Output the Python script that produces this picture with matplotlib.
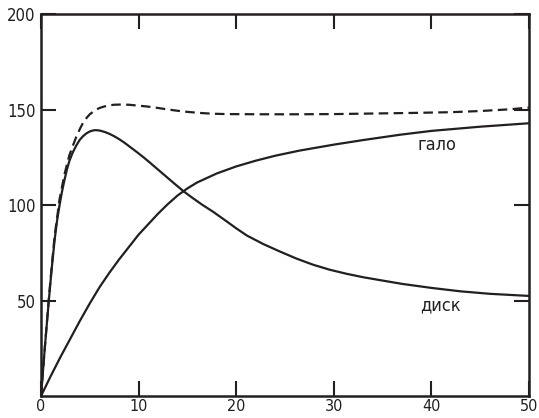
import matplotlib
matplotlib.use("Agg")
import matplotlib.pyplot as plt

# radius values and velocities
disk_r = [0, 0.4, 0.8, 1.1, 1.4, 1.65, 1.9, 2.15, 2.4, 2.65, 2.9, 3.25, 3.6, 3.95, 4.3, 4.65,
          5.0, 5.3, 5.6, 6.0, 6.5, 7.0, 7.5, 8.0, 8.5, 9.1, 9.8, 10.5, 11.2, 12.0, 12.8, 13.6,
          14.6, 15.5, 16.5, 17.65, 19.0, 20.0, 21.1, 22.8, 24.5, 26.2, 27.9, 29.6, 31.3, 33.0,
          34.7, 37.0, 40.0, 43.0, 46.0, 50.0]
disk_v = [0, 26, 50, 67, 82, 92, 100, 107, 113, 118.5, 123, 127.5, 131, 134, 136, 137.5,
          138.5, 139, 139.2, 139, 138.3, 137.3, 136, 134.5, 132.8, 130.5, 127.8, 125, 122, 118.5, 115, 111.5,
          107.2, 103.8, 100.2, 96.4, 91.5, 87.8, 84.0, 79.5, 75.6, 71.9, 68.7, 66.1, 64.0, 62.2,
          60.7, 58.7, 56.6, 54.8, 53.5, 52.4]

halo_r = [0, 1, 2, 3, 4, 5, 6, 7, 8, 9, 10, 11, 12, 13, 14, 15, 16, 18, 20, 22, 24,
          26.5, 30, 33, 36.8, 40, 45, 50]
halo_v = [0, 10.5, 20.5, 30, 39.5, 48.5, 57, 64.5, 71.5, 78, 84.5, 90, 95.5, 100.5, 105, 108.7,
          111.8, 116.5, 120.2, 123.2, 125.8, 128.5, 131.6, 134, 136.8, 138.8, 141, 142.8]

total_r = [0, 0.4, 0.8, 1.1, 1.4, 1.9, 2.4, 2.9, 3.3, 3.6, 4.0, 4.3, 4.7, 5.0, 5.5, 6.0, 6.5,
           7.0, 7.5, 8.2, 9.0, 10.0, 11.0, 12.0, 13.0, 14.5, 16.0, 17.5, 19.0, 22.7, 26.0,
           30.0, 34.0, 38.0, 42.0, 45.0, 48.0, 50.0]
total_v = [0, 26, 51, 68, 84, 103, 116, 126, 131.5, 135.5, 140, 143, 145.8, 147.5, 149.5, 150.8, 151.6,
           152.2, 152.5, 152.6, 152.5, 152, 151.5, 150.8, 150, 149, 148.3, 147.8, 147.6, 147.5, 147.5,
           147.6, 147.9, 148.2, 148.6, 149.2, 150.1, 151]

xticks = [0, 10, 20, 30, 40, 50]
yticks = [50, 100, 150, 200]

plt.rcParams['font.family'] = ['DejaVu Sans']
plt.rcParams['font.stretch'] = 'condensed'

fig = plt.figure(figsize=(5.39, 4.18), dpi=100)
ax = fig.add_axes([0.0761, 0.0526, 0.9053, 0.9139])

col = '#231f20'
ax.plot(disk_r, disk_v, color=col, lw=1.6, solid_joinstyle='round')
ax.plot(halo_r, halo_v, color=col, lw=1.6, solid_joinstyle='round')
ax.plot(total_r, total_v, color=col, lw=1.6, dashes=(4.3, 2.4))

ax.set_xlim(0, 50)
ax.set_ylim(0, 200)
ax.set_xticks(xticks)
ax.set_yticks(yticks)
ax.set_xticklabels([str(t) for t in xticks])
ax.set_yticklabels([str(t) for t in yticks])

for s in ax.spines.values():
    s.set_linewidth(1.8)
    s.set_color(col)

ax.tick_params(direction='in', length=10.5, width=1.5, color=col,
               top=True, right=True, labelsize=12, labelcolor=col, pad=4)
ax.tick_params(axis='x', pad=2, labelsize=11.5)

ax.text(40.6, 131.4, 'гало', fontsize=13, color=col, ha='center', va='center')
ax.text(40.9, 47.6, 'диск', fontsize=13, color=col, ha='center', va='center')

fig.savefig('out.png', dpi=100)
